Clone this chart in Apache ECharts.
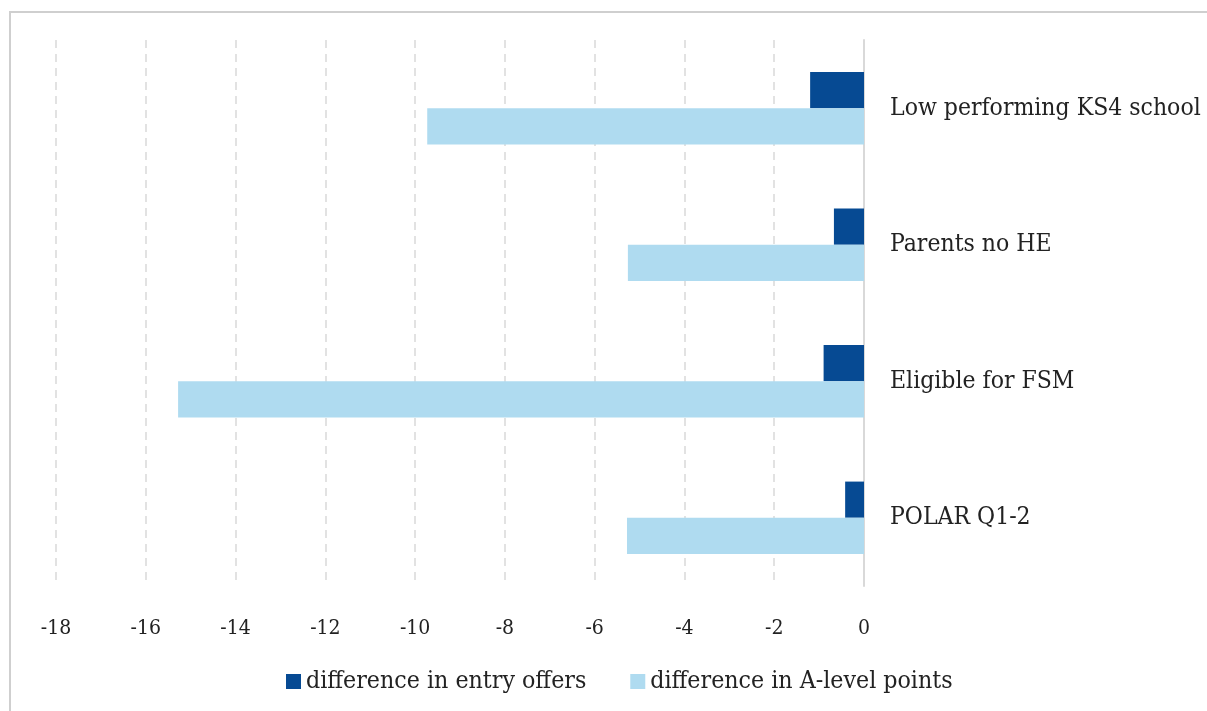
<!DOCTYPE html>
<html>
<head>
<meta charset="utf-8">
<script src="https://cdn.jsdelivr.net/npm/echarts@6/dist/echarts.min.js"></script>
<style>
html,body{margin:0;padding:0;background:#fff;}
#chart{width:1207px;height:711px;}
</style>
</head>
<body>
<div id="chart"></div>
<script>
const categories = ['Low performing KS4 school', 'Parents no HE', 'Eligible for FSM', 'POLAR Q1-2'];
const entryOffers = [-1.2, -0.67, -0.9, -0.42];
const aLevelPoints = [-9.73, -5.26, -15.28, -5.28];
const seriesNames = ['difference in entry offers', 'difference in A-level points'];

const FONT = '"DejaVu Serif Condensed", "DejaVu Serif", serif';
const chart = echarts.init(document.getElementById('chart'));
chart.setOption({
  animation: false,
  textStyle: { fontFamily: FONT },
  graphic: [{
    type: 'rect',
    shape: { x: 10, y: 12, width: 1300, height: 800 },
    style: { fill: 'none', stroke: '#cfcfcf', lineWidth: 2 },
    z: -1
  }],
  grid: { left: 56, right: 343, top: 40, bottom: 125, containLabel: false },
  legend: {
    top: 664,
    left: 281,
    itemWidth: 15,
    itemHeight: 15,
    itemGap: 44,
    icon: 'rect',
    textStyle: { fontSize: 24.7, color: '#222', fontFamily: FONT },
    data: seriesNames
  },
  xAxis: {
    type: 'value',
    min: -18, max: 0, interval: 2,
    axisLine: { show: false },
    axisTick: { show: false },
    axisLabel: { fontSize: 21, color: '#222', margin: 32, fontFamily: FONT },
    splitLine: { show: true, lineStyle: { color: '#d9d9d9', type: [8, 6], width: 1.5 } }
  },
  yAxis: {
    type: 'category',
    data: categories,
    inverse: true,
    position: 'right',
    axisLine: { show: true, lineStyle: { color: '#d9d9d9', width: 2 } },
    axisTick: { show: false },
    axisLabel: { fontSize: 24.5, color: '#222', margin: 26, fontFamily: FONT, padding: [5, 0, 0, 0] }
  },
  series: [
    {
      name: seriesNames[0], type: 'bar', data: entryOffers,
      itemStyle: { color: '#064a93' },
      barGap: '0%', barCategoryGap: '47%'
    },
    {
      name: seriesNames[1], type: 'bar', data: aLevelPoints,
      itemStyle: { color: '#afdbf0' },
      barGap: '0%', barCategoryGap: '47%'
    }
  ]
});
</script>
</body>
</html>
